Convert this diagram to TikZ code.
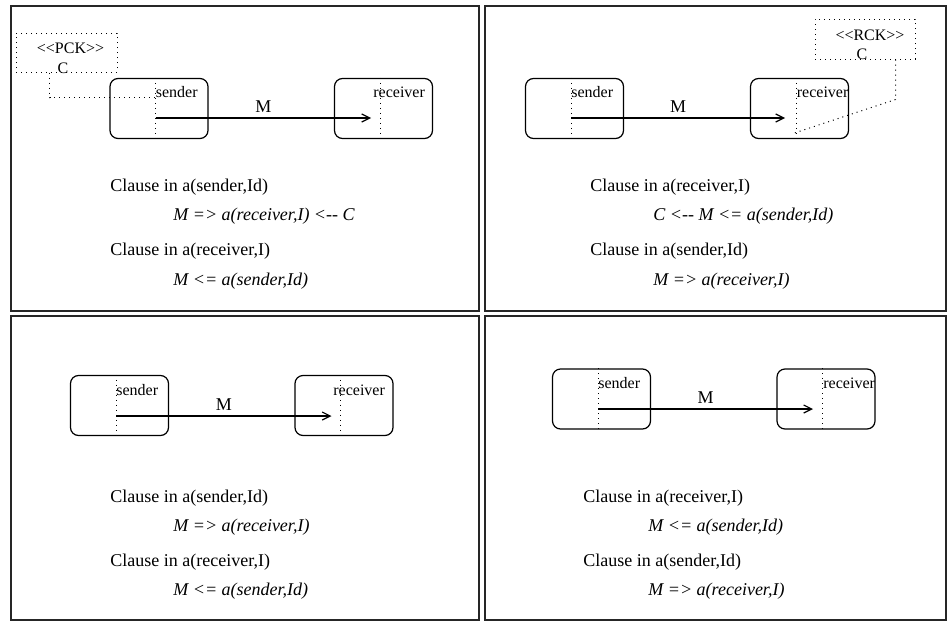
\documentclass[tikz,border=0pt]{standalone}
\usepackage{fontspec}
\setmainfont{Liberation Serif}
\usetikzlibrary{arrows.meta, positioning}

\begin{document}
\begin{tikzpicture}[x=0.5pt, y=-0.5pt,
    panel/.style={draw=black!85, line width=1pt},
    agent/.style={draw, rounded corners=4pt, minimum width=49pt, minimum height=30pt,
                  line width=0.6pt},
    life/.style={dotted, line width=0.5pt},
    note/.style={draw, dotted, line width=0.5pt},
    tag/.style={font=\fontsize{8}{9.5}\selectfont, inner sep=0pt},
    msg/.style={-{Straight Barb[length=4pt, width=4pt]}, line width=0.6pt},
    clause/.style={font=\fontsize{9}{11}\selectfont, inner sep=0pt, anchor=base west},
    rule/.style={clause, font=\fontsize{9}{11}\selectfont\itshape}
  ]
  \useasboundingbox (0,0) rectangle (947,621);

  % frames
  \draw[panel] (11,6)    rectangle (479,311);
  \draw[panel] (485,6)   rectangle (946,311);
  \draw[panel] (11,316)  rectangle (479,620);
  \draw[panel] (485,316) rectangle (946,620);

  % panel 1: sender constraint
  \node[note, minimum width=50.5pt, minimum height=19.5pt] (pck) at (66.5,52.5) {};
  \node[tag, anchor=base] at ([xshift=2pt, yshift=-10.5pt]pck.north) {<{}<PCK>{}>};
  \node[tag, anchor=base] at ([xshift=-1.75pt, yshift=-0.5pt]pck.south) {C};
  \node[agent] (snd1) at (159,108.5) {};
  \node[agent] (rcv1) at (383.5,108.5) {};
  \draw[life] ([xshift=-1.75pt]snd1.north) -- ([xshift=-1.75pt]snd1.south);
  \draw[life] ([xshift=-1.75pt]rcv1.north) -- ([xshift=-1.75pt]rcv1.south);
  \node[tag, anchor=base west] at ([xshift=-1.75pt, yshift=-10pt]snd1.north) {sender};
  \node[tag, anchor=base west] at ([xshift=-5.25pt, yshift=-10pt]rcv1.north) {receiver};
  \draw[life] ([xshift=17pt]pck.south west) |- ([xshift=-1.75pt, yshift=-10pt]snd1.north);
  \draw[msg] ([xshift=-1.75pt, yshift=-4.75pt]snd1.center)
    -- node[above=2.5pt, inner sep=0pt, font=\fontsize{9}{11}\selectfont] {M}
       ([xshift=-6.25pt, yshift=-4.75pt]rcv1.center);
  \node[clause] at (110,191) {Clause in a(sender,Id)};
  \node[rule]   at (173,220) {M => a(receiver,I) <-{}- C};
  \node[clause] at (110,255) {Clause in a(receiver,I)};
  \node[rule]   at (173,285) {M <= a(sender,Id)};

  % panel 2: receiver constraint
  \node[note, minimum width=50pt, minimum height=20pt] (rck) at (865,39) {};
  \node[tag, anchor=base] at ([xshift=2.5pt, yshift=-10.75pt]rck.north) {<{}<RCK>{}>};
  \node[tag, anchor=base] at ([xshift=-1.5pt]rck.south) {C};
  \node[agent] (snd2) at (574.5,108.5) {};
  \node[agent] (rcv2) at (799.5,108.5) {};
  \draw[life] ([xshift=-1.75pt]snd2.north) -- ([xshift=-1.75pt]snd2.south);
  \draw[life] ([xshift=-1.75pt]rcv2.north) -- ([xshift=-1.75pt]rcv2.south);
  \node[tag, anchor=base west] at ([xshift=-1.75pt, yshift=-10pt]snd2.north) {sender};
  \node[tag, anchor=base west] at ([xshift=-1.5pt, yshift=-10pt]rcv2.north) {receiver};
  \draw[life] ([xshift=-10pt]rck.south east) -- ++(0,40)
    -- ([xshift=-2.5pt, yshift=-12.25pt]rcv2.center);
  \draw[msg] ([xshift=-1.75pt, yshift=-4.75pt]snd2.center)
    -- node[above=2.5pt, inner sep=0pt, font=\fontsize{9}{11}\selectfont] {M}
       ([xshift=-7.25pt, yshift=-4.75pt]rcv2.center);
  \node[clause] at (590,191) {Clause in a(receiver,I)};
  \node[rule]   at (653,220) {C <-{}- M <= a(sender,Id)};
  \node[clause] at (590,255) {Clause in a(sender,Id)};
  \node[rule]   at (653,285) {M => a(receiver,I)};

  % panel 3
  \node[agent] (snd3) at (119.5,405.5) {};
  \node[agent] (rcv3) at (344,405.5) {};
  \draw[life] ([xshift=-1.75pt]snd3.north) -- ([xshift=-1.75pt]snd3.south);
  \draw[life] ([xshift=-1.75pt]rcv3.north) -- ([xshift=-1.75pt]rcv3.south);
  \node[tag, anchor=base west] at ([xshift=-1.75pt, yshift=-10.5pt]snd3.north) {sender};
  \node[tag, anchor=base west] at ([xshift=-5.5pt, yshift=-10.5pt]rcv3.north) {receiver};
  \draw[msg] ([xshift=-1.75pt, yshift=-5.25pt]snd3.center)
    -- node[above=2.5pt, inner sep=0pt, font=\fontsize{9}{11}\selectfont] {M}
       ([xshift=-6.25pt, yshift=-5.25pt]rcv3.center);
  \node[clause] at (110,502) {Clause in a(sender,Id)};
  \node[rule]   at (173,531) {M => a(receiver,I)};
  \node[clause] at (110,566) {Clause in a(receiver,I)};
  \node[rule]   at (173,595) {M <= a(sender,Id)};

  % panel 4
  \node[agent] (snd4) at (601.5,399) {};
  \node[agent] (rcv4) at (826,399) {};
  \draw[life] ([xshift=-1.75pt]snd4.north) -- ([xshift=-1.75pt]snd4.south);
  \draw[life] ([xshift=-1.75pt]rcv4.north) -- ([xshift=-1.75pt]rcv4.south);
  \node[tag, anchor=base west] at ([xshift=-1.75pt, yshift=-10pt]snd4.north) {sender};
  \node[tag, anchor=base west] at ([xshift=-1.5pt, yshift=-10pt]rcv4.north) {receiver};
  \draw[msg] ([xshift=-1.75pt, yshift=-5pt]snd4.center)
    -- node[above=2.5pt, inner sep=0pt, font=\fontsize{9}{11}\selectfont] {M}
       ([xshift=-6.5pt, yshift=-5pt]rcv4.center);
  \node[clause] at (583,502) {Clause in a(receiver,I)};
  \node[rule]   at (648,531) {M <= a(sender,Id)};
  \node[clause] at (583,566) {Clause in a(sender,Id)};
  \node[rule]   at (648,595) {M => a(receiver,I)};
\end{tikzpicture}
\end{document}
